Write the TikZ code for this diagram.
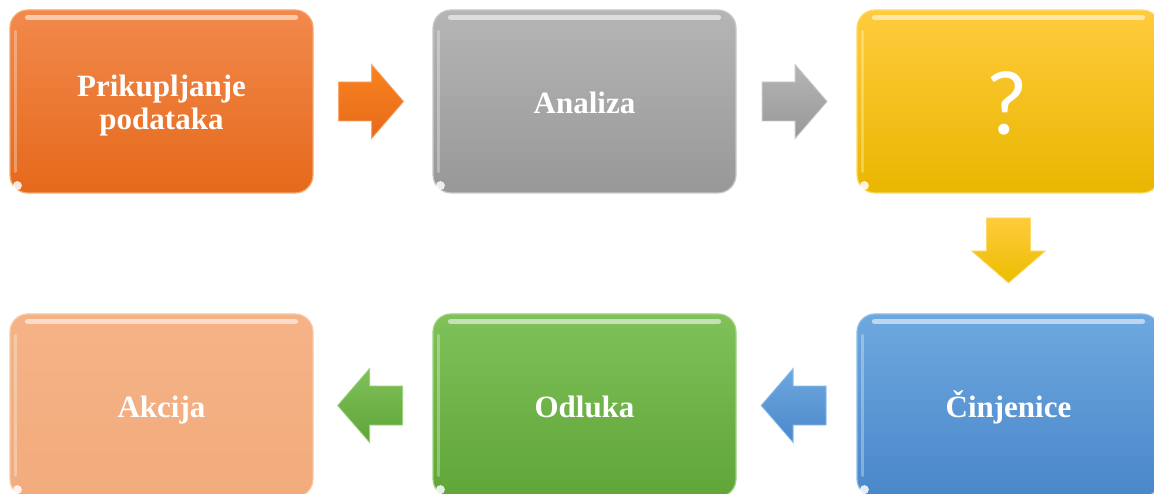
\documentclass[tikz,border=0pt]{standalone}
\usepackage{fontspec}
\setmainfont{Liberation Serif}
\newfontfamily\qfont{Carlito}
\usetikzlibrary{calc}
\definecolor{orTop}{HTML}{F2894C}\definecolor{orBot}{HTML}{E5691B}\definecolor{orLn}{HTML}{F7A66E}
\definecolor{grTop}{HTML}{B5B5B5}\definecolor{grBot}{HTML}{989898}\definecolor{grLn}{HTML}{C8C8C8}
\definecolor{yeTop}{HTML}{FFCB3D}\definecolor{yeBot}{HTML}{E9B600}\definecolor{yeLn}{HTML}{FFD96A}
\definecolor{blTop}{HTML}{6EA8DF}\definecolor{blBot}{HTML}{4A87CA}\definecolor{blLn}{HTML}{8CC0EC}
\definecolor{gnTop}{HTML}{80C15A}\definecolor{gnBot}{HTML}{5FA537}\definecolor{gnLn}{HTML}{9ED27E}
\definecolor{peTop}{HTML}{F4B387}\definecolor{peBot}{HTML}{F2AB7C}\definecolor{peLn}{HTML}{F8C8A4}
\tikzset{
  box/.style={rounded corners=18pt, minimum width=303pt, minimum height=183pt, inner sep=0pt, line width=1.2pt},
  lbl/.style={text=white, font=\fontsize{31}{33}\selectfont\bfseries, align=center, inner sep=0pt, text height=21pt, text depth=7pt},
  hl/.style={white, opacity=0.55, line width=5pt, line cap=round},
  glint/.style={fill=white, opacity=0.85},
  rarrow/.pic={\path[pic actions] (-32,-19.5) -- (1,-19.5) -- (1,-37) -- (33,0) -- (1,37) -- (1,19.5) -- (-32,19.5) -- cycle;},
  larrow/.pic={\path[pic actions] (32,-19.5) -- (-1,-19.5) -- (-1,-37) -- (-33,0) -- (-1,37) -- (-1,19.5) -- (32,19.5) -- cycle;},
  darrow/.pic={\path[pic actions] (-22,-32) -- (22,-32) -- (22,1) -- (37,1) -- (0,33) -- (-37,1) -- (-22,1) -- cycle;}
}
\begin{document}
\begin{tikzpicture}[x=1pt,y=-1pt]
\useasboundingbox (0,0) rectangle (1154,494);
\clip (0,0) rectangle (1154,494);
\node[box, top color=orTop, bottom color=orBot, draw=orLn] (b1) at (161.5,101.5) {};
\node[box, top color=grTop, bottom color=grBot, draw=grLn] (b2) at (584.5,101.5) {};
\node[box, top color=yeTop, bottom color=yeBot, draw=yeLn] (b3) at (1008.5,101.5) {};
\node[box, top color=blTop, bottom color=blBot, draw=blLn] (b4) at (1008.5,405.5) {};
\node[box, top color=gnTop, bottom color=gnBot, draw=gnLn] (b5) at (584.5,405.5) {};
\node[box, top color=peTop, bottom color=peBot, draw=peLn] (b6) at (161.5,405.5) {};
\foreach \n in {b1,b2,b3,b4,b5,b6}{
  \draw[hl] ($(\n.north west)+(18,8)$) -- ($(\n.north east)+(-18,8)$);
  \draw[white, opacity=0.3, line width=3pt, line cap=round] ($(\n.north west)+(6,22)$) -- ($(\n.south west)+(6,-22)$);
  \fill[glint] ($(\n.south west)+(8,-8)$) circle (4.5pt);
}
\node[lbl] (t1a) at ($(b1.center)+(0,-12)$) {Prikupljanje};
\node[lbl] (t1b) at ($(b1.center)+(0,21)$) {podataka};
\node[lbl] (t2) at ($(b2.center)+(0,5)$) {Analiza};
\node[text=white, font=\qfont\fontsize{92}{92}\selectfont, inner sep=0pt] (q) at ($(b3.center)+(-2,1.5)$) {?};
\node[lbl] (t4) at ($(b4.center)+(0,5)$) {Činjenice};
\node[lbl] (t5) at ($(b5.center)+(0,5)$) {Odluka};
\node[lbl] (t6) at ($(b6.center)+(0,5)$) {Akcija};
\coordinate (a1) at ($(b1.east)!0.48!(b2.west)$);
\coordinate (a2) at ($(b2.east)!0.48!(b3.west)$);
\coordinate (a3) at ($(b3.south)!0.47!(b4.north)$);
\coordinate (a4) at ($(b4.west)!0.52!(b5.east)$);
\coordinate (a5) at ($(b5.west)!0.52!(b6.east)$);
\path (a1) pic[top color=orange!60!orTop, bottom color=orBot, draw=orLn, line width=0.8pt] {rarrow};
\path (a2) pic[top color=grTop, bottom color=grBot, draw=grLn, line width=0.8pt] {rarrow};
\path (a3) pic[top color=yeTop, bottom color=yeBot!90!yellow, draw=yeLn, line width=0.8pt] {darrow};
\path (a4) pic[top color=blTop, bottom color=blBot, draw=blLn, line width=0.8pt] {larrow};
\path (a5) pic[top color=gnTop, bottom color=gnBot, draw=gnLn, line width=0.8pt] {larrow};
\end{tikzpicture}
\end{document}
